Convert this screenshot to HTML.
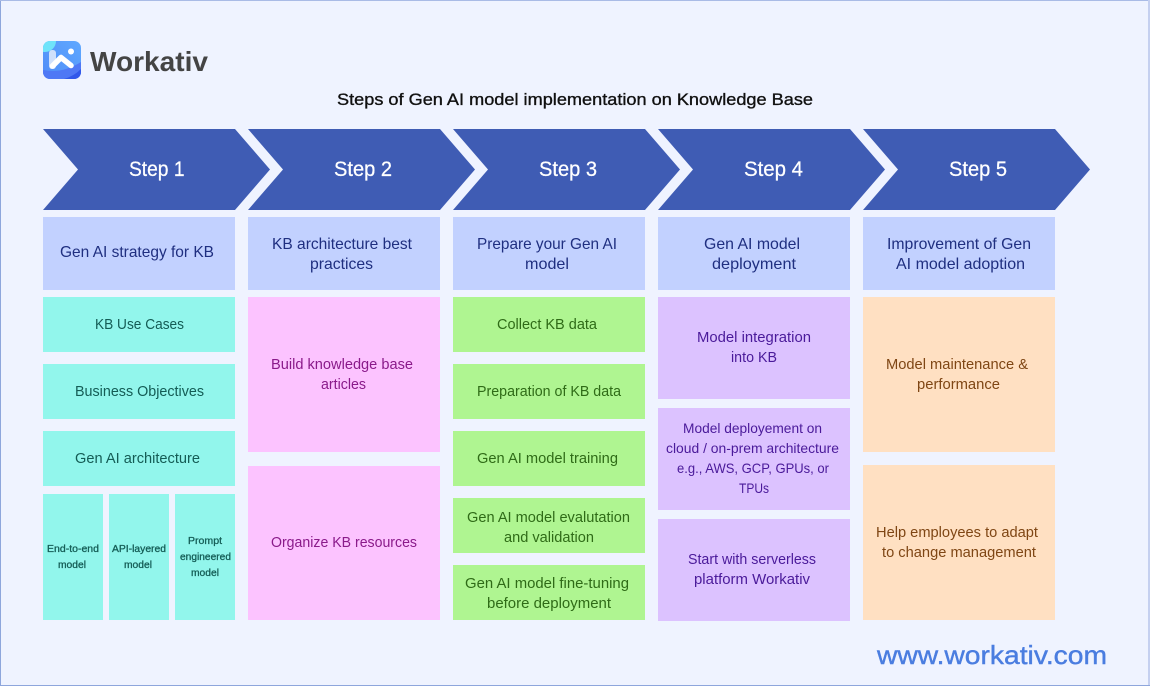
<!DOCTYPE html>
<html>
<head>
<meta charset="utf-8">
<title>Steps of Gen AI model implementation on Knowledge Base</title>
<style>
html,body{margin:0;padding:0;background:#eff3ff;}
svg{display:block;}
text{font-family:"Liberation Sans",sans-serif;}
.b{font-size:15px;}
.hd{font-size:16px;}
.s{font-size:10.5px;stroke:#145c55;stroke-width:.3px;fill:#145c55;}
.h{fill:#1f2f80;}.t{fill:#145c55;}.p{fill:#8a1a8a;}.g{fill:#2f6b17;}.v{fill:#4a1a9a;}.o{fill:#7f4614;}
.st{font-size:21px;fill:#fff;stroke:#fff;stroke-width:.25px;}
</style>
</head>
<body>
<svg width="1150" height="686" viewBox="0 0 1150 686" xmlns="http://www.w3.org/2000/svg">
<defs>
<linearGradient id="lg" x1="1" y1="0" x2="0" y2="1"><stop offset="0" stop-color="#5fa8ff"/><stop offset="1" stop-color="#4f8cf7"/></linearGradient>
<clipPath id="lc"><rect x="43" y="41" width="38" height="38" rx="7"/></clipPath>
</defs>
<rect width="1150" height="686" fill="#eff3ff"/>
<rect x="0" y="0" width="1" height="686" fill="#8ea6dc"/>
<rect x="0" y="0" width="1150" height="1" fill="#a9bbe6"/>
<rect x="1148" y="0" width="2" height="686" fill="#c5d0f0"/>
<rect x="0" y="685" width="1150" height="1" fill="#8ea6dc"/>

<!-- logo -->
<g clip-path="url(#lc)">
<rect x="43" y="41" width="38" height="38" fill="url(#lg)"/>
<circle cx="45" cy="41" r="11" fill="#6fe3fa"/>
<path d="M43 79 L43 70 Q62 74 81 62 L81 79Z" fill="#4f78f5"/>
<path d="M64 79 Q74 76 81 69 L81 79Z" fill="#3158ea"/>
</g>
<rect x="49" y="50" width="7" height="19" rx="3" fill="#cfe0fb"/>
<path d="M52.5 66 L61 57.5 L71 65.5" fill="none" stroke="#ffffff" stroke-width="5.5" stroke-linecap="round" stroke-linejoin="round"/>
<circle cx="71" cy="51.5" r="3" fill="#fff"/>
<text x="90" y="71" font-size="28" font-weight="bold" fill="#444444" textLength="118" lengthAdjust="spacingAndGlyphs">Workativ</text>

<!-- title -->
<text x="337" y="105" font-size="17" fill="#111" stroke="#111" stroke-width=".35" textLength="476" lengthAdjust="spacingAndGlyphs">Steps of Gen AI model implementation on Knowledge Base</text>

<!-- chevrons -->
<g fill="#3f5cb4">
<polygon points="43,129 235,129 270,169.5 235,210 43,210 78,169.5"/>
<polygon points="248,129 440,129 475,169.5 440,210 248,210 283,169.5"/>
<polygon points="453,129 645,129 680,169.5 645,210 453,210 488,169.5"/>
<polygon points="658,129 850,129 885,169.5 850,210 658,210 693,169.5"/>
<polygon points="863,129 1055,129 1090,169.5 1055,210 863,210 898,169.5"/>
</g>
<text class="st" x="129" y="176" textLength="55.5" lengthAdjust="spacingAndGlyphs">Step 1</text>
<text class="st" x="334" y="176" textLength="58" lengthAdjust="spacingAndGlyphs">Step 2</text>
<text class="st" x="539" y="176" textLength="58" lengthAdjust="spacingAndGlyphs">Step 3</text>
<text class="st" x="744" y="176" textLength="59" lengthAdjust="spacingAndGlyphs">Step 4</text>
<text class="st" x="949" y="176" textLength="58" lengthAdjust="spacingAndGlyphs">Step 5</text>

<!-- header boxes -->
<g fill="#c2d1ff">
<rect x="43" y="217" width="192" height="73"/>
<rect x="248" y="217" width="192" height="73"/>
<rect x="453" y="217" width="192" height="73"/>
<rect x="658" y="217" width="192" height="73"/>
<rect x="863" y="217" width="192" height="73"/>
</g>
<!-- col 1 -->
<g fill="#92f6ec">
<rect x="43" y="297" width="192" height="55"/>
<rect x="43" y="364" width="192" height="55"/>
<rect x="43" y="431" width="192" height="55"/>
<rect x="43" y="494" width="60" height="126"/>
<rect x="109" y="494" width="60" height="126"/>
<rect x="175" y="494" width="60" height="126"/>
</g>
<!-- col 2 -->
<g fill="#fcc3ff">
<rect x="248" y="297" width="192" height="155"/>
<rect x="248" y="466" width="192" height="154"/>
</g>
<!-- col 3 -->
<g fill="#aff591">
<rect x="453" y="297" width="192" height="55"/>
<rect x="453" y="364" width="192" height="55"/>
<rect x="453" y="431" width="192" height="55"/>
<rect x="453" y="498" width="192" height="55"/>
<rect x="453" y="565" width="192" height="55"/>
</g>
<!-- col 4 -->
<g fill="#dcc2ff">
<rect x="658" y="297" width="192" height="102"/>
<rect x="658" y="408" width="192" height="102"/>
<rect x="658" y="519" width="192" height="102"/>
</g>
<!-- col 5 -->
<g fill="#ffe0c2">
<rect x="863" y="297" width="192" height="155"/>
<rect x="863" y="465" width="192" height="155"/>
</g>

<!-- header text -->
<g class="hd">
<text class="h" x="60" y="257" textLength="154" lengthAdjust="spacingAndGlyphs">Gen AI strategy for KB</text>
<text class="h" x="272" y="249" textLength="140" lengthAdjust="spacingAndGlyphs">KB architecture best</text>
<text class="h" x="310" y="269" textLength="63" lengthAdjust="spacingAndGlyphs">practices</text>
<text class="h" x="477" y="249" textLength="140" lengthAdjust="spacingAndGlyphs">Prepare your Gen AI</text>
<text class="h" x="525" y="269" textLength="44" lengthAdjust="spacingAndGlyphs">model</text>
<text class="h" x="704" y="249" textLength="96" lengthAdjust="spacingAndGlyphs">Gen AI model</text>
<text class="h" x="712" y="269" textLength="84" lengthAdjust="spacingAndGlyphs">deployment</text>
<text class="h" x="887" y="249" textLength="144" lengthAdjust="spacingAndGlyphs">Improvement of Gen</text>
<text class="h" x="896" y="269" textLength="129" lengthAdjust="spacingAndGlyphs">AI model adoption</text>
</g>

<g class="b">
<text class="t" x="95" y="329" textLength="89" lengthAdjust="spacingAndGlyphs">KB Use Cases</text>
<text class="t" x="75" y="396" textLength="129" lengthAdjust="spacingAndGlyphs">Business Objectives</text>
<text class="t" x="75" y="463" textLength="125" lengthAdjust="spacingAndGlyphs">Gen AI architecture</text>

<text class="p" x="271" y="369" textLength="142" lengthAdjust="spacingAndGlyphs">Build knowledge base</text>
<text class="p" x="321" y="389" textLength="45" lengthAdjust="spacingAndGlyphs">articles</text>
<text class="p" x="271" y="547" textLength="146" lengthAdjust="spacingAndGlyphs">Organize KB resources</text>

<text class="g" x="497" y="329" textLength="100" lengthAdjust="spacingAndGlyphs">Collect KB data</text>
<text class="g" x="477" y="396" textLength="144" lengthAdjust="spacingAndGlyphs">Preparation of KB data</text>
<text class="g" x="477" y="463" textLength="141" lengthAdjust="spacingAndGlyphs">Gen AI model training</text>
<text class="g" x="467" y="522" textLength="163" lengthAdjust="spacingAndGlyphs">Gen AI model evalutation</text>
<text class="g" x="504" y="542" textLength="90" lengthAdjust="spacingAndGlyphs">and validation</text>
<text class="g" x="465" y="588" textLength="164" lengthAdjust="spacingAndGlyphs">Gen AI model fine-tuning</text>
<text class="g" x="487" y="608" textLength="124" lengthAdjust="spacingAndGlyphs">before deployment</text>

<text class="v" x="697" y="342" textLength="114" lengthAdjust="spacingAndGlyphs">Model integration</text>
<text class="v" x="731" y="362" textLength="46" lengthAdjust="spacingAndGlyphs">into KB</text>
<text class="v" x="683" y="433" font-size="14" textLength="139" lengthAdjust="spacingAndGlyphs">Model deployement on</text>
<text class="v" x="666" y="453" font-size="14" textLength="173" lengthAdjust="spacingAndGlyphs">cloud / on-prem architecture</text>
<text class="v" x="677" y="473" font-size="14" textLength="152" lengthAdjust="spacingAndGlyphs">e.g., AWS, GCP, GPUs, or</text>
<text class="v" x="739" y="493" font-size="14" textLength="30" lengthAdjust="spacingAndGlyphs">TPUs</text>
<text class="v" x="688" y="564" textLength="128" lengthAdjust="spacingAndGlyphs">Start with serverless</text>
<text class="v" x="694" y="584" textLength="116" lengthAdjust="spacingAndGlyphs">platform Workativ</text>

<text class="o" x="886" y="369" textLength="142" lengthAdjust="spacingAndGlyphs">Model maintenance &amp;</text>
<text class="o" x="917" y="389" textLength="83" lengthAdjust="spacingAndGlyphs">performance</text>
<text class="o" x="876" y="537" textLength="162" lengthAdjust="spacingAndGlyphs">Help employees to adapt</text>
<text class="o" x="882" y="557" textLength="154" lengthAdjust="spacingAndGlyphs">to change management</text>
</g>

<!-- small labels -->
<text class="s" x="47" y="552" textLength="52" lengthAdjust="spacingAndGlyphs">End-to-end</text>
<text class="s" x="58" y="568" textLength="28" lengthAdjust="spacingAndGlyphs">model</text>
<text class="s" x="112" y="552" textLength="54" lengthAdjust="spacingAndGlyphs">API-layered</text>
<text class="s" x="124" y="568" textLength="28" lengthAdjust="spacingAndGlyphs">model</text>
<text class="s" x="188" y="544" textLength="34" lengthAdjust="spacingAndGlyphs">Prompt</text>
<text class="s" x="180" y="560" textLength="51" lengthAdjust="spacingAndGlyphs">engineered</text>
<text class="s" x="191" y="576" textLength="28" lengthAdjust="spacingAndGlyphs">model</text>

<!-- url -->
<text x="877" y="664" font-size="26" fill="#4a7de0" stroke="#4a7de0" stroke-width=".4" textLength="230" lengthAdjust="spacingAndGlyphs">www.workativ.com</text>
</svg>
</body>
</html>
